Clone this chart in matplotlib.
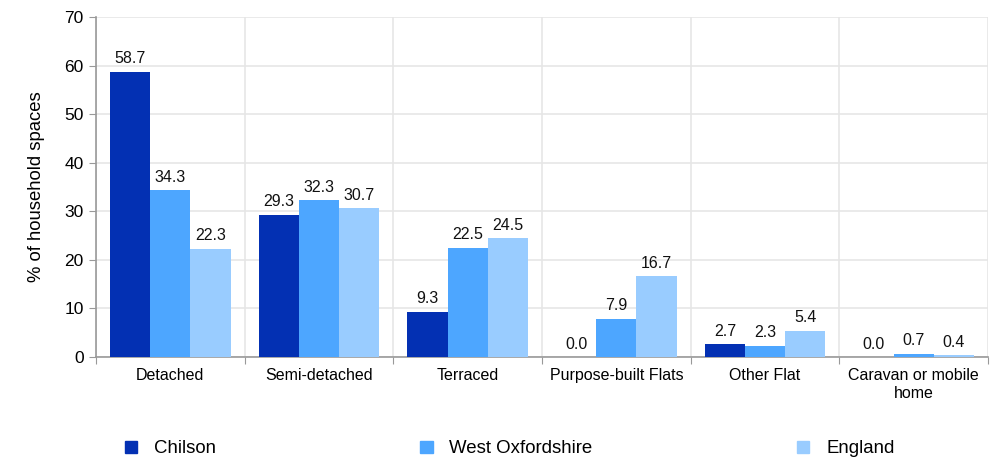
import numpy as np
import matplotlib
matplotlib.use("Agg")
import matplotlib.pyplot as plt
from matplotlib.patches import Patch

plt.rcParams['font.family'] = ['Liberation Sans', 'DejaVu Sans']

categories = ['Detached', 'Semi-detached', 'Terraced', 'Purpose-built Flats',
              'Other Flat', 'Caravan or mobile\nhome']
series_names = ['Chilson', 'West Oxfordshire', 'England']
chilson = [58.7, 29.3, 9.3, 0.0, 2.7, 0.0]
west_oxon = [34.3, 32.3, 22.5, 7.9, 2.3, 0.7]
england = [22.3, 30.7, 24.5, 16.7, 5.4, 0.4]
colors = ['#0330B3', '#4DA6FF', '#99CCFF']

fig = plt.figure(figsize=(9.92, 4.58), dpi=100)
ax = fig.add_axes([0.0968, 0.2205, 0.8992, 0.7425])

x = np.arange(len(categories))
w = 0.27
for i, (vals, col) in enumerate(zip([chilson, west_oxon, england], colors)):
    pos = x + (i - 1) * w
    ax.bar(pos, vals, width=w, color=col, zorder=3)
    for p, v in zip(pos, vals):
        ax.text(p, v + 1.1, f'{v:.1f}', ha='center', va='bottom', fontsize=11.5, color='#111111')

ax.set_xlim(-0.5, len(categories) - 0.5)
ax.set_ylim(0, 70)
ax.set_yticks(range(0, 71, 10))
ax.tick_params(axis='y', labelsize=12.5, length=5, color='#999999', pad=4)

# category boundaries for ticks and vertical grid
bounds = np.arange(-0.5, len(categories), 1.0)
ax.set_xticks(bounds)
ax.set_xticklabels([])
ax.set_xticks(x, minor=True)
ax.set_xticklabels(categories, minor=True, fontsize=11.5)
ax.tick_params(axis='x', which='major', length=5, color='#999999')
ax.tick_params(axis='x', which='minor', length=0, pad=8)

ax.grid(True, which='major', color='#e6e6e6', linewidth=1.2, zorder=0)
for s in ['top', 'right']:
    ax.spines[s].set_visible(False)
for s in ['left', 'bottom']:
    ax.spines[s].set_color('#999999')
    ax.spines[s].set_linewidth(1.2)

ax.set_ylabel('% of household spaces', fontsize=13.3, labelpad=14)

handles = [Patch(color=c) for c in colors]
fig.legend(handles, series_names, loc='lower left', bbox_to_anchor=(0.109, -0.035),
           ncol=3, frameon=False, fontsize=13.4, handlelength=0.65, handleheight=0.65,
           handletextpad=0.9, columnspacing=11.0)

fig.savefig('out.png', dpi=100)
